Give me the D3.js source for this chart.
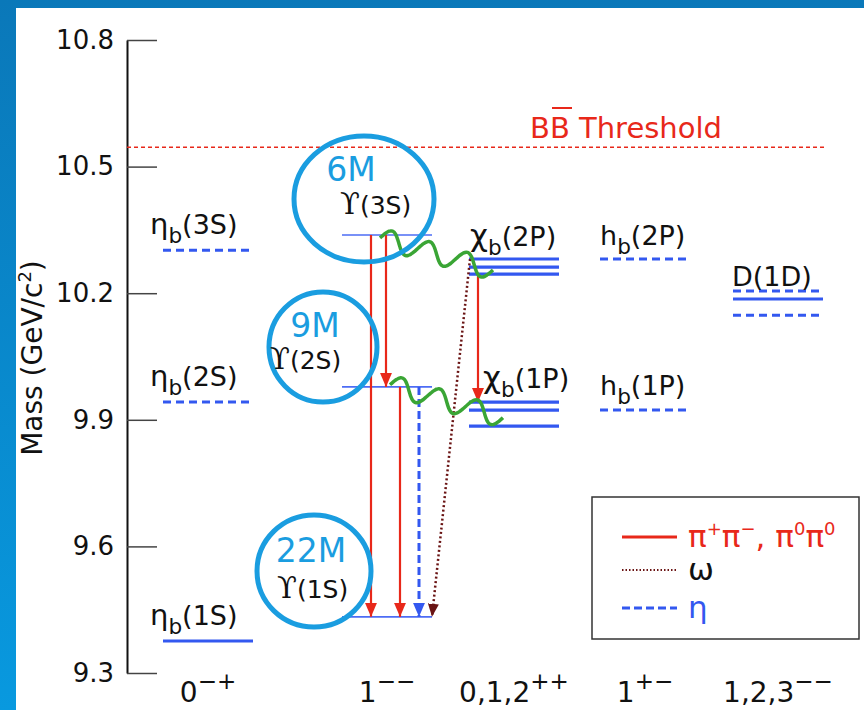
<!DOCTYPE html>
<html>
<head>
<meta charset="utf-8">
<script src="https://cdn.jsdelivr.net/npm/d3@7"></script>
<style>
  body { margin: 0; background: #fff; }
  svg text { font-family: "DejaVu Sans", sans-serif; }
</style>
</head>
<body>
<div id="chart"></div>
<script>
// ---- data (masses in GeV/c^2) ----
const yTicks = [9.3, 9.6, 9.9, 10.2, 10.5, 10.8];
const colBase = ["0", "1", "0,1,2", "1", "1,2,3"];
const colSup = ["\u2212+", "\u2212\u2212", "++", "+\u2212", "\u2212\u2212"];

const etaMass = [10.302, 9.942, 9.376];      // ηb(3S), ηb(2S), ηb(1S)
const etaSeen = [false, false, true];
const upsMass = [10.338, 9.978, 9.433];      // ϒ(3S), ϒ(2S), ϒ(1S)
const upsCount = ["6M", "9M", "22M"];
const chi2P = [10.281, 10.262, 10.245];
const chi1P = [9.942, 9.923, 9.885];
const hbMass = [10.281, 9.923];              // hb(2P), hb(1P)
const d1dMass = [10.205, 10.186, 10.148];
const d1dSeen = [false, true, false];
const bbThreshold = 10.546;

// legend labels: [base, sup] pairs
const legendParts = [
    [["\u03c0", "+"], ["\u03c0", "\u2212"], [", ", ""], ["\u03c0", "0"], ["\u03c0", "0"]],
    [["\u03c9", ""]],
    [["\u03b7", ""]]
];

// ---- layout ----
const W = 864, H = 710;
const blue = "#3358f0", red = "#e8281a", brown = "#6a1414", green = "#3aa535", ring = "#1a9de0";

const svg = d3.select("#chart").append("svg")
    .attr("width", W).attr("height", H);

const defs = svg.append("defs");
const grad = defs.append("linearGradient").attr("id", "bg").attr("x1", 0).attr("y1", 0).attr("x2", 0).attr("y2", 1);
grad.append("stop").attr("offset", "0%").attr("stop-color", "#0a78b9");
grad.append("stop").attr("offset", "100%").attr("stop-color", "#0899df");
svg.append("rect").attr("width", W).attr("height", H).attr("fill", "url(#bg)");
svg.append("rect").attr("x", 16).attr("y", 8).attr("width", W - 16).attr("height", H - 8).attr("fill", "#fff");

function marker(id, color, w, l) {
    defs.append("marker").attr("id", id)
        .attr("markerUnits", "userSpaceOnUse")
        .attr("viewBox", `0 ${-w / 2} ${l} ${w}`)
        .attr("refX", l).attr("refY", 0)
        .attr("markerWidth", l).attr("markerHeight", w)
        .attr("orient", "auto")
        .append("path").attr("d", `M0,${-w / 2}L${l},0L0,${w / 2}Z`).attr("fill", color);
}
marker("ah-red", red, 12, 14);
marker("ah-blue", blue, 12, 14);
marker("ah-brown", brown, 11, 13);

/* Y-scale */
const y = d3.scaleLinear().domain([9.3, 10.8]).range([673, 40]);
/* column positions (uneven, like the original) */
const x = d3.scaleOrdinal().domain(d3.range(colBase.length)).range([208, 387, 514, 645, 778]);
const half = 45;

/* Y-axis */
const axis = svg.append("g")
    .attr("transform", "translate(127,0)")
    .call(d3.axisLeft(y).tickValues(yTicks).tickFormat(d3.format(".1f"))
        .tickSizeInner(-30).tickSizeOuter(0).tickPadding(13));
axis.select(".domain").attr("stroke", "#111").attr("stroke-width", 2);
axis.selectAll(".tick line").attr("stroke", "#444").attr("stroke-width", 1.5);
axis.selectAll(".tick text").attr("font-size", 26).attr("fill", "#111")
    .attr("font-family", "DejaVu Sans");

svg.append("text")
    .attr("transform", "rotate(-90)")
    .attr("x", -358).attr("y", 42)
    .attr("text-anchor", "middle").attr("font-size", 28).attr("fill", "#111")
    .html('Mass (GeV/c<tspan dy="-11" font-size="18">2</tspan><tspan dy="11">)</tspan>');

/* X category labels */
const cats = svg.append("g").selectAll("text").data(colBase).join("text")
    .attr("x", (d, i) => x(i)).attr("y", 702)
    .attr("text-anchor", "middle").attr("font-size", 28).attr("fill", "#111");
cats.append("tspan").text(d => d);
cats.append("tspan").attr("dy", -13).attr("font-size", 23).text((d, i) => colSup[i]);

/* BB threshold */
svg.append("line")
    .attr("x1", 127).attr("x2", 824)
    .attr("y1", y(bbThreshold)).attr("y2", y(bbThreshold))
    .attr("stroke", red).attr("stroke-width", 1.5).attr("stroke-dasharray", "4,3");
svg.append("text").attr("x", 530).attr("y", 138)
    .attr("font-size", 29).attr("fill", red).text("BB Threshold");
svg.append("line").attr("x1", 552).attr("x2", 572).attr("y1", 108).attr("y2", 108)
    .attr("stroke", red).attr("stroke-width", 2);

/* energy levels table */
const levels = [];
etaMass.forEach((m, i) => levels.push({ col: 0, mass: m, dash: !etaSeen[i], w: 3 }));
upsMass.forEach(m => levels.push({ col: 1, mass: m, dash: false, w: 1.6, light: true }));
chi2P.forEach(m => levels.push({ col: 2, mass: m, dash: false, w: 3.2 }));
chi1P.forEach(m => levels.push({ col: 2, mass: m, dash: false, w: 3.2 }));
hbMass.forEach(m => levels.push({ col: 3, mass: m, dash: true, w: 3 }));
d1dMass.forEach((m, i) => levels.push({ col: 4, mass: m, dash: !d1dSeen[i], w: 3 }));

svg.append("g").selectAll("line").data(levels).join("line")
    .attr("x1", d => x(d.col) - half).attr("x2", d => x(d.col) + half)
    .attr("y1", d => y(d.mass)).attr("y2", d => y(d.mass))
    .attr("stroke", d => d.light ? "#4d6cf5" : blue)
    .attr("stroke-width", d => d.w)
    .attr("stroke-dasharray", d => d.dash ? "8,5" : null);

/* state labels */
function stateLabel(px, py, main, sub, rest, size, mainSize) {
    const t = svg.append("text").attr("x", px).attr("y", py).attr("font-size", size).attr("fill", "#111");
    t.append("tspan").attr("font-size", mainSize || size).text(main);
    t.append("tspan").attr("dy", 9).attr("font-size", size * 0.8).text(sub);
    t.append("tspan").attr("dy", -9).text(rest);
}
const nS = ["3S", "2S", "1S"];
etaMass.forEach((m, i) => stateLabel(x(0) - 58, y(m) - 16, "\u03b7", "b", `(${nS[i]})`, 27, 29));
stateLabel(x(2) - 44, y(chi2P[0]) - 13, "\u03c7", "b", "(2P)", 27, 31);
stateLabel(x(2) - 31, y(chi1P[0]) - 14, "\u03c7", "b", "(1P)", 27, 31);
stateLabel(x(3) - 45, y(hbMass[0]) - 14, "h", "b", "(2P)", 27);
stateLabel(x(3) - 45, y(hbMass[1]) - 15, "h", "b", "(1P)", 27);
svg.append("text").attr("x", x(4) - 46).attr("y", y(d1dMass[0]) - 5)
    .attr("font-size", 27).attr("fill", "#111").text("D(1D)");

/* transitions */
const arrows = [
    { type: "pp", c0: 1, dx0: -16, m0: upsMass[0], c1: 1, dx1: -16, m1: upsMass[2] },
    { type: "pp", c0: 1, dx0: -1, m0: upsMass[0], c1: 1, dx1: -1, m1: upsMass[1] },
    { type: "pp", c0: 1, dx0: 13, m0: upsMass[1], c1: 1, dx1: 13, m1: upsMass[2] },
    { type: "pp", c0: 2, dx0: -36, m0: chi2P[2], c1: 2, dx1: -36, m1: chi1P[0] },
    { type: "eta", c0: 1, dx0: 32, m0: upsMass[1], c1: 1, dx1: 32, m1: upsMass[2] },
    { type: "om", c0: 2, dx0: -44, m0: chi2P[0], c1: 1, dx1: 45, m1: upsMass[2] }
];
const aStyle = {
    pp: { stroke: red, w: 2.2, dash: null, m: "ah-red" },
    eta: { stroke: blue, w: 3, dash: "8,4", m: "ah-blue" },
    om: { stroke: brown, w: 2.5, dash: "2,2.5", m: "ah-brown" }
};
svg.append("g").selectAll("line").data(arrows).join("line")
    .attr("x1", d => x(d.c0) + d.dx0).attr("y1", d => y(d.m0))
    .attr("x2", d => x(d.c1) + d.dx1).attr("y2", d => y(d.m1))
    .attr("stroke", d => aStyle[d.type].stroke)
    .attr("stroke-width", d => aStyle[d.type].w)
    .attr("stroke-dasharray", d => aStyle[d.type].dash)
    .attr("marker-end", d => `url(#${aStyle[d.type].m})`);

/* radiative photons (wavy) */
const photons = [
    { c0: 1, dx0: -7, m0: upsMass[0] - 0.007, c1: 2, dx1: -21, m1: chi2P[1] - 0.007 },
    { c0: 1, dx0: 3, m0: upsMass[1] + 0.005, c1: 2, dx1: -11, m1: 9.905 }
];
function wave(d) {
    const x0 = x(d.c0) + d.dx0, y0 = y(d.m0), x1 = x(d.c1) + d.dx1, y1 = y(d.m1);
    const L = Math.hypot(x1 - x0, y1 - y0), nx = (y1 - y0) / L, ny = -(x1 - x0) / L;
    return d3.range(0, 1.0001, 0.01).map(t => {
        const a = 10 * Math.sin(2 * Math.PI * 3 * t);
        return [x0 + (x1 - x0) * t + a * nx, y0 + (y1 - y0) * t + a * ny];
    });
}
svg.append("g").selectAll("path").data(photons).join("path")
    .attr("d", d => d3.line().curve(d3.curveBasis)(wave(d)))
    .attr("fill", "none").attr("stroke", green).attr("stroke-width", 3.5);

/* sample-size rings */
const rings = [
    { cx: 364, cy: 199, rx: 70, ry: 63, lx: 351, ly: 181, ux: 340, uy: 214 },
    { cx: 323, cy: 347, rx: 54, ry: 55, lx: 315, ly: 337, ux: 270, uy: 369 },
    { cx: 314, cy: 571, rx: 57, ry: 56, lx: 311, ly: 562, ux: 277, uy: 598 }
];
const rg = svg.append("g");
rg.selectAll("ellipse").data(rings).join("ellipse")
    .attr("cx", d => d.cx).attr("cy", d => d.cy).attr("rx", d => d.rx).attr("ry", d => d.ry)
    .attr("fill", "none").attr("stroke", ring).attr("stroke-width", 5);
rg.selectAll("text.count").data(rings).join("text").attr("class", "count")
    .attr("x", d => d.lx).attr("y", d => d.ly).attr("text-anchor", "middle")
    .attr("font-size", 33).attr("fill", ring).text((d, i) => upsCount[i]);
const ut = rg.selectAll("text.ups").data(rings).join("text").attr("class", "ups")
    .attr("x", d => d.ux).attr("y", d => d.uy).attr("fill", "#111");
ut.append("tspan").attr("font-family", "DejaVu Serif").attr("font-size", 29).text("\u03d2");
ut.append("tspan").attr("font-size", 25).text((d, i) => `(${nS[i]})`);

/* legend */
const lg = svg.append("g").attr("transform", "translate(592,497)");
lg.append("rect").attr("width", 267).attr("height", 142)
    .attr("fill", "#fff").attr("stroke", "#333").attr("stroke-width", 1.5);
const lkeys = ["pp", "om", "eta"];
const lcol = [red, "#111", blue];
const li = lg.selectAll("g.item").data(lkeys).join("g").attr("class", "item")
    .attr("transform", (d, i) => `translate(0,${[40, 73, 111][i]})`);
li.append("line").attr("x1", 30).attr("x2", 85)
    .attr("stroke", d => aStyle[d].stroke).attr("stroke-width", d => d === "om" ? 2.2 : 2.8)
    .attr("stroke-dasharray", d => d === "om" ? "1.5,2" : d === "eta" ? "8,4" : null);
const lt = li.append("text").attr("x", 96).attr("y", 10).attr("font-size", 31)
    .attr("fill", (d, i) => lcol[i]);
lt.each(function (d, i) {
    const t = d3.select(this);
    let back = 0;
    legendParts[i].forEach(([b, s]) => {
        t.append("tspan").attr("dy", back).text(b);
        back = 0;
        if (s) {
            t.append("tspan").attr("dy", -12).attr("font-size", 18).text(s);
            back = 12;
        }
    });
});
</script>
</body>
</html>
